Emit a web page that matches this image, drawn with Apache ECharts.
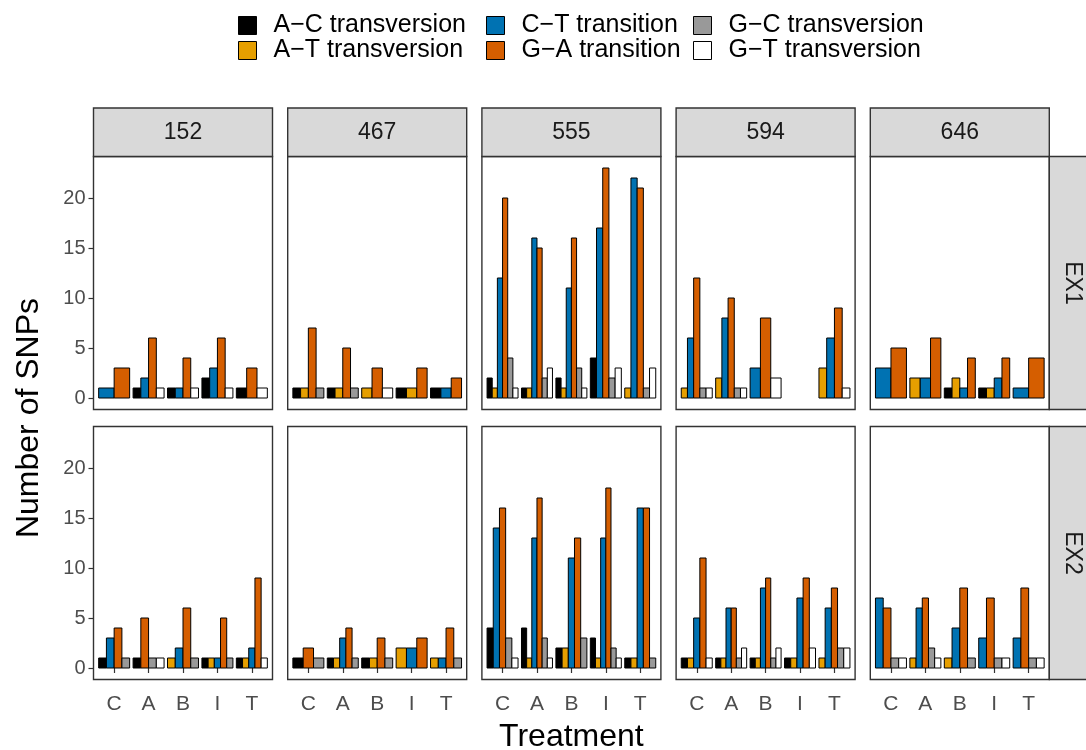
<!DOCTYPE html>
<html>
<head>
<meta charset="utf-8">
<script src="https://cdn.jsdelivr.net/npm/echarts@6/dist/echarts.min.js"></script>
<style>
  html, body { margin: 0; padding: 0; background: #ffffff; }
  #chart { width: 1086px; height: 750px; }
</style>
</head>
<body>
<div id="chart"></div>
<script>
// ---- data ----
const lines = ['152', '467', '555', '594', '646'];
const experiments = ['EX1', 'EX2'];
const treatments = ['C', 'A', 'B', 'I', 'T'];
const mutationTypes = ['A−C transversion', 'A−T transversion', 'C−T transition',
                       'G−A transition', 'G−C transversion', 'G−T transversion'];
const typeColors = ['#000000', '#E69F00', '#0072B2', '#D55E00', '#999999', '#FFFFFF'];
const yTicks = [0, 5, 10, 15, 20];

// SNP counts: one row per treatment (C, A, B, I, T), columns follow mutationTypes; 0 = none found
const ex1_152 = [[0,0,1,3,0,0],[1,0,2,6,0,1],[1,0,1,4,0,1],[2,0,3,6,0,1],[1,0,0,3,0,1]];
const ex1_467 = [[1,1,0,7,1,0],[1,1,0,5,1,0],[0,1,0,3,0,1],[1,1,0,3,0,0],[1,0,1,2,0,0]];
const ex1_555 = [[2,1,12,20,4,1],[1,1,16,15,2,3],[2,1,11,16,3,1],[4,0,17,23,2,3],[0,1,22,21,1,3]];
const ex1_594 = [[0,1,6,12,1,1],[0,2,8,10,1,1],[0,0,3,8,0,2],[0,0,0,0,0,0],[0,3,6,9,0,1]];
const ex1_646 = [[0,0,3,5,0,0],[0,2,2,6,0,0],[1,2,1,4,0,0],[1,1,2,4,0,0],[0,0,1,4,0,0]];
const ex2_152 = [[1,0,3,4,1,0],[1,0,0,5,1,1],[0,1,2,6,1,0],[1,1,1,5,1,0],[1,1,2,9,0,1]];
const ex2_467 = [[1,0,0,2,1,0],[1,1,3,4,1,0],[1,1,0,3,1,0],[0,2,2,3,0,0],[0,1,1,4,1,0]];
const ex2_555 = [[4,0,14,16,3,1],[4,1,13,17,3,1],[2,2,11,13,3,0],[3,1,13,18,2,1],[1,1,16,16,1,0]];
const ex2_594 = [[1,1,5,11,0,1],[1,1,6,6,1,2],[1,1,8,9,1,2],[1,1,7,9,0,2],[0,1,6,8,2,2]];
const ex2_646 = [[0,0,7,6,1,1],[0,1,6,7,2,1],[0,1,4,8,1,0],[0,0,3,7,1,1],[0,0,3,8,1,1]];

const panelCounts = [
  [ex1_152, ex1_467, ex1_555, ex1_594, ex1_646],
  [ex2_152, ex2_467, ex2_555, ex2_594, ex2_646]
];

// ---- layout ----
const FONT = '"Liberation Sans", Arial, Helvetica, sans-serif';
const panelLeft0 = 93.5, panelStep = 194.2, panelWidth = 179;
const rowTop = [156.5, 426.5], panelHeight = 253;
const stripTop = 108, stripHeight = 48.5;
const rightStripLeft = panelLeft0 + 4 * panelStep + panelWidth;

const grids = [], xAxes = [], yAxes = [], series = [], graphics = [];

function barRenderer(color) {
  return function (params, api) {
    const pos = api.value(0), v = api.value(1), slot = api.value(2), n = api.value(3);
    const unit = api.size([1, 0])[0];
    const groupW = 0.9 * unit, barW = groupW / n;
    const base = api.coord([pos, 0]);
    const top = api.coord([pos, v]);
    return {
      type: 'rect',
      shape: { x: base[0] - groupW / 2 + slot * barW, y: top[1], width: barW, height: base[1] - top[1] },
      style: { fill: color, stroke: '#000000', lineWidth: 1 }
    };
  };
}

experiments.forEach((ex, r) => {
  lines.forEach((ln, c) => {
    const idx = grids.length;
    const left = panelLeft0 + c * panelStep;
    grids.push({
      left: left, top: rowTop[r], width: panelWidth, height: panelHeight,
      show: true, backgroundColor: '#ffffff', borderColor: '#333333', borderWidth: 1.4,
      containLabel: false, outerBoundsMode: 'none'
    });
    const bottomRow = r === experiments.length - 1;
    xAxes.push({
      type: 'value', gridIndex: idx, min: 0.4, max: 5.6,
      axisLine: { show: false }, splitLine: { show: false },
      axisTick: { show: bottomRow, customValues: [1, 2, 3, 4, 5], length: 5,
                  lineStyle: { color: '#333333', width: 1.2 } },
      axisLabel: { show: bottomRow, customValues: [1, 2, 3, 4, 5], margin: 14,
                   formatter: v => treatments[Math.round(v) - 1],
                   color: '#4D4D4D', fontSize: 21, fontFamily: FONT }
    });
    yAxes.push({
      type: 'value', gridIndex: idx, min: -1.15, max: 24.15,
      axisLine: { show: false }, splitLine: { show: false },
      axisTick: { show: c === 0, customValues: yTicks, length: 5,
                  lineStyle: { color: '#333333', width: 1.2 } },
      axisLabel: { show: c === 0, customValues: yTicks, margin: 8,
                   color: '#4D4D4D', fontSize: 20, fontFamily: FONT }
    });

    // dodge: bars present in a treatment share its 0.9-wide slot
    const counts = panelCounts[r][c];
    const perType = mutationTypes.map(() => []);
    counts.forEach((row, ti) => {
      const present = row.map((v, k) => (v > 0 ? k : -1)).filter(k => k >= 0);
      present.forEach((k, slot) => {
        perType[k].push([ti + 1, row[k], slot, present.length]);
      });
    });
    mutationTypes.forEach((name, k) => {
      series.push({
        type: 'custom', name: name, xAxisIndex: idx, yAxisIndex: idx,
        renderItem: barRenderer(typeColors[k]),
        itemStyle: { color: typeColors[k], borderColor: '#000000', borderWidth: 1 },
        encode: { x: 0, y: 1 },
        data: perType[k], silent: true, animation: false
      });
    });
  });
});

// facet strips (top: line, right: experiment)
lines.forEach((ln, c) => {
  const left = panelLeft0 + c * panelStep;
  graphics.push({
    type: 'rect', shape: { x: left, y: stripTop, width: panelWidth, height: stripHeight },
    style: { fill: '#D9D9D9', stroke: '#333333', lineWidth: 1.4 }, silent: true
  });
  graphics.push({
    type: 'text', x: left + panelWidth / 2, y: stripTop + stripHeight / 2,
    style: { text: ln, fill: '#1A1A1A', fontSize: 23, fontFamily: FONT,
             textAlign: 'center', textVerticalAlign: 'middle' }, silent: true
  });
});
experiments.forEach((ex, r) => {
  graphics.push({
    type: 'rect', shape: { x: rightStripLeft, y: rowTop[r], width: 48, height: panelHeight },
    style: { fill: '#D9D9D9', stroke: '#333333', lineWidth: 1.4 }, silent: true
  });
  graphics.push({
    type: 'text', x: rightStripLeft + 23, y: rowTop[r] + panelHeight / 2, rotation: -Math.PI / 2,
    style: { text: ex, fill: '#1A1A1A', fontSize: 23, fontFamily: FONT,
             textAlign: 'center', textVerticalAlign: 'middle' }, silent: true
  });
});

// axis titles
graphics.push({
  type: 'text', x: 29, y: (rowTop[0] + rowTop[1] + panelHeight) / 2, rotation: Math.PI / 2,
  style: { text: 'Number of SNPs', fill: '#000000', fontSize: 32, fontFamily: FONT,
           textAlign: 'center', textVerticalAlign: 'middle' }, silent: true
});
graphics.push({
  type: 'text', x: panelLeft0 + (4 * panelStep + panelWidth) / 2, y: 737,
  style: { text: 'Treatment', fill: '#000000', fontSize: 32, fontFamily: FONT,
           textAlign: 'center', textVerticalAlign: 'middle' }, silent: true
});

// legend: three columns of two keys each
const legendKeyLefts = [238, 486, 693];
const legends = legendKeyLefts.map((kx, col) => ({
  orient: 'vertical', left: kx - 5, top: 8,
  itemWidth: 18, itemHeight: 18, itemGap: 0, selectedMode: false,
  textStyle: { fontSize: 25, color: '#000000', fontFamily: FONT, padding: [0, 0, 0, 12] },
  data: [mutationTypes[col * 2], mutationTypes[col * 2 + 1]].map(name => ({
    name: name, icon: 'rect',
    itemStyle: { color: typeColors[mutationTypes.indexOf(name)], borderColor: '#000000', borderWidth: 1 }
  }))
}));

const chart = echarts.init(document.getElementById('chart'), null, { renderer: 'canvas' });
chart.setOption({
  animation: false,
  backgroundColor: '#ffffff',
  legend: legends,
  grid: grids,
  xAxis: xAxes,
  yAxis: yAxes,
  series: series,
  graphic: graphics
});
</script>
</body>
</html>
